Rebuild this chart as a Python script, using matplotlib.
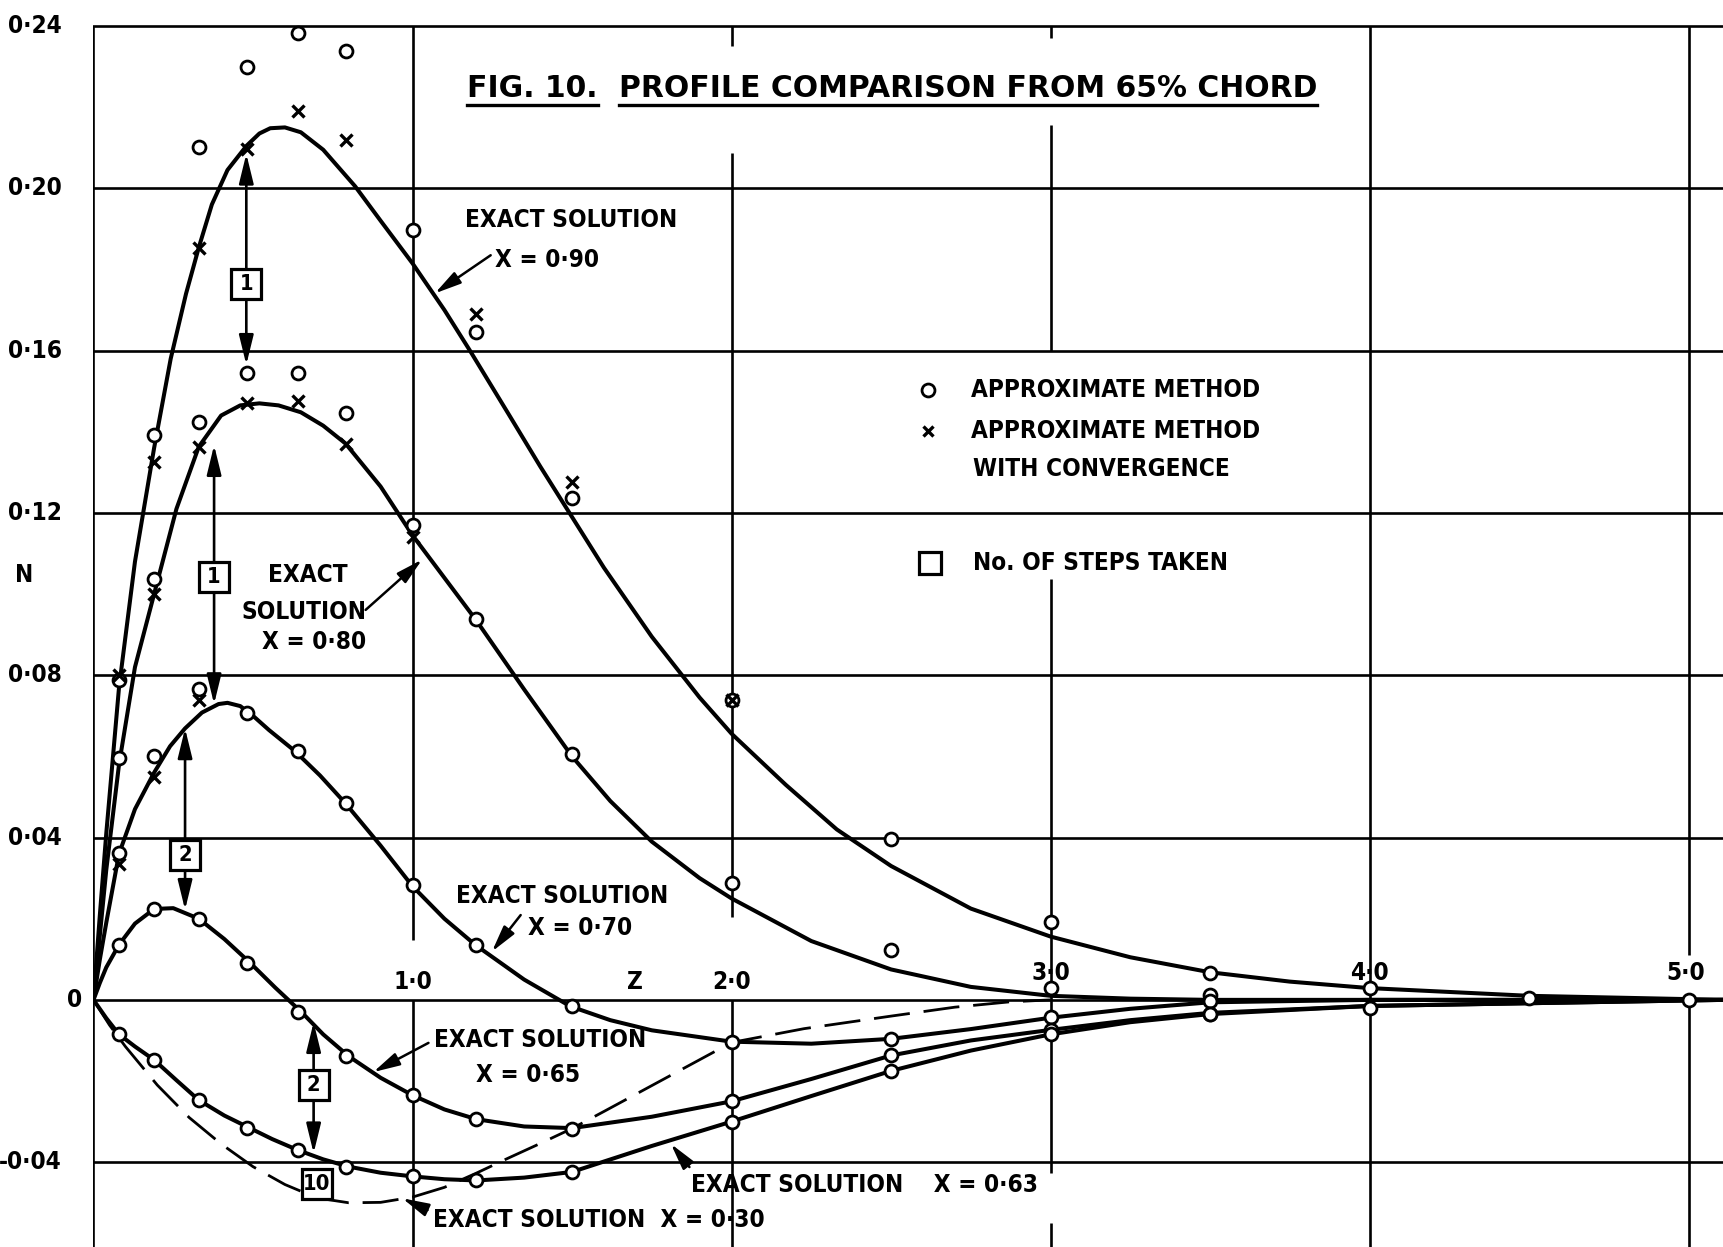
import os
import numpy as np
import matplotlib
matplotlib.use('Agg')
import matplotlib.pyplot as plt
from matplotlib import font_manager as fm

# exact solutions, Z against N
z90 = [0, 0.02, 0.04, 0.08, 0.13, 0.19, 0.242, 0.29, 0.33, 0.371, 0.42, 0.48, 0.52, 0.554, 0.60, 0.65,
       0.72, 0.82, 0.9, 1.0, 1.1, 1.18, 1.3, 1.4, 1.5, 1.6, 1.75, 1.9, 2.0, 2.17, 2.33, 2.5, 2.75, 3.0,
       3.25, 3.5, 3.75, 4.0, 4.5, 5.111]
n90 = [0, 0.021, 0.041, 0.077, 0.108, 0.136, 0.158, 0.174, 0.1854, 0.196, 0.2045, 0.2105, 0.2135, 0.2148,
       0.2150, 0.2138, 0.2095, 0.2005, 0.192, 0.1815, 0.170, 0.160, 0.1445, 0.1315, 0.119, 0.1065, 0.0895,
       0.0745, 0.0656, 0.053, 0.042, 0.0330, 0.0225, 0.0156, 0.0105, 0.0068, 0.0045, 0.0029, 0.0010, 0.0]

z80 = [0, 0.02, 0.04, 0.08, 0.13, 0.19, 0.26, 0.33, 0.40, 0.46, 0.52, 0.58, 0.65, 0.72, 0.79, 0.9, 1.0,
       1.1, 1.2, 1.35, 1.5, 1.62, 1.75, 1.9, 2.0, 2.25, 2.5, 2.75, 3.0, 3.25, 3.5, 4.0, 5.111]
n80 = [0, 0.016, 0.032, 0.058, 0.082, 0.100, 0.121, 0.1363, 0.1440, 0.1465, 0.1470, 0.1465, 0.1448,
       0.1415, 0.1371, 0.1265, 0.1145, 0.1040, 0.0935, 0.0765, 0.0600, 0.0490, 0.0390, 0.0300, 0.0250,
       0.0145, 0.0075, 0.0032, 0.0010, 0.0003, 0.0, 0.0, 0.0]

z70 = [0, 0.02, 0.04, 0.08, 0.13, 0.19, 0.24, 0.287, 0.34, 0.392, 0.42, 0.46, 0.50, 0.55, 0.63, 0.71,
       0.789, 0.9, 1.0, 1.1, 1.196, 1.35, 1.495, 1.62, 1.75, 2.0, 2.25, 2.5, 2.75, 3.0, 3.25, 3.5, 4.0,
       5.111]
n70 = [0, 0.010, 0.019, 0.036, 0.047, 0.056, 0.0625, 0.0669, 0.0708, 0.0729, 0.0732, 0.0724, 0.0700,
       0.0665, 0.0614, 0.0553, 0.0485, 0.0380, 0.0280, 0.0200, 0.0136, 0.0050, -0.0016, -0.0050, -0.0075,
       -0.0103, -0.0108, -0.0096, -0.0072, -0.0044, -0.0022, -0.0006, 0.0, 0.0]

z65 = [0, 0.02, 0.04, 0.08, 0.13, 0.19, 0.25, 0.33, 0.41, 0.49, 0.57, 0.653, 0.72, 0.80, 0.9, 1.0, 1.1,
       1.2, 1.35, 1.5, 1.75, 2.0, 2.25, 2.5, 2.75, 3.0, 3.25, 3.5, 4.0, 5.111]
n65 = [0, 0.0042, 0.008, 0.0136, 0.0188, 0.0224, 0.0226, 0.0200, 0.0150, 0.0092, 0.0030, -0.0031,
       -0.0085, -0.0139, -0.0192, -0.0235, -0.0270, -0.0294, -0.0312, -0.0316, -0.0288, -0.0250, -0.0195,
       -0.0137, -0.0100, -0.0074, -0.0050, -0.0032, -0.0015, 0.0]

z63 = [0, 0.04, 0.08, 0.13, 0.19, 0.26, 0.33, 0.41, 0.49, 0.56, 0.64, 0.72, 0.80, 0.9, 1.0, 1.1, 1.2,
       1.35, 1.5, 1.75, 2.0, 2.25, 2.5, 2.75, 3.0, 3.25, 3.5, 4.0, 5.111]
n63 = [0, -0.0045, -0.0085, -0.0115, -0.0148, -0.0198, -0.0247, -0.0285, -0.0316, -0.0343, -0.0370,
       -0.0393, -0.0411, -0.0426, -0.0435, -0.0442, -0.0445, -0.0438, -0.0424, -0.0360, -0.0300,
       -0.0237, -0.0175, -0.0125, -0.0085, -0.0055, -0.0035, -0.0015, 0.0]

z30 = [0, 0.05, 0.1, 0.2, 0.3, 0.4, 0.5, 0.6, 0.7, 0.8, 0.9, 1.0, 1.1, 1.2, 1.3, 1.4, 1.5, 1.6, 1.8,
       2.0, 2.227, 2.5, 2.7, 2.87, 3.0]
n30 = [0, -0.0062, -0.0115, -0.0210, -0.0290, -0.0355, -0.0411, -0.0455, -0.0488, -0.0500, -0.0499,
       -0.0486, -0.0462, -0.0427, -0.0390, -0.0354, -0.0317, -0.0275, -0.0190, -0.0105, -0.0071,
       -0.0040, -0.0018, -0.0005, 0.0]

# approximate method (circles) and approximate method with convergence (crosses)
zp = [0.08, 0.19, 0.33, 0.48, 0.64, 0.79, 1.0, 1.2, 1.5, 2.0, 2.5, 3.0, 3.5, 4.0, 4.5, 5.0]
o90 = [0.0788, 0.1392, 0.2101, 0.2298, 0.2383, 0.2338, 0.1896, 0.1645, 0.1237, 0.0738, 0.0397, 0.0193,
       0.0066, 0.0029, 0.0005, 0.0]
x90 = [0.0800, 0.1326, 0.1854, 0.2097, 0.2190, 0.2119, np.nan, 0.1690, 0.1277, 0.0738]
o80 = [0.0597, 0.1037, 0.1424, 0.1544, 0.1544, 0.1446, 0.1171, 0.0939, 0.0606, 0.0287, 0.0123, 0.0029,
       0.0011]
x80 = [np.nan, 0.1000, 0.1363, 0.1471, 0.1476, 0.1371, 0.1141]
o70 = [0.0361, 0.0600, 0.0767, 0.0706, 0.0614, 0.0485, 0.0283, 0.0136, -0.0016, -0.0103, -0.0096,
       -0.0043, -0.0002]
x70 = [0.0335, 0.0550, 0.0739]
o65 = [0.0136, 0.0225, 0.0200, 0.0092, -0.0031, -0.0139, -0.0235, -0.0294, -0.0318, -0.0250, -0.0137,
       -0.0074, -0.0035, -0.0020]
o63 = [-0.0085, -0.0148, -0.0247, -0.0316, -0.0370, -0.0411, -0.0435, -0.0445, -0.0424, -0.0300,
       -0.0175, -0.0085, -0.0035]

yticks = [-0.04, 0, 0.04, 0.08, 0.12, 0.16, 0.20, 0.24]
ylabels = ['-0·04', '0', '0·04', '0·08', '0·12', '0·16', '0·20', '0·24']
xticks = [1, 2, 3, 4, 5]
xlabels = ['1·0', '2·0', '3·0', '4·0', '5·0']

# step boxes: z, arrow top, arrow bottom, box centre, label
steps = [(0.479, 0.2085, 0.1565, 0.1764, '1'),
         (0.378, 0.1367, 0.0729, 0.1041, '1'),
         (0.287, 0.0669, 0.0222, 0.0357, '2'),
         (0.690, -0.0055, -0.0378, -0.0210, '2')]


def narrow_font():
    # the lettering is narrow and bold: use a narrow face when one is installed
    for fam, stretch, size in [('Liberation Sans Narrow', 'normal', 20.5), ('DejaVu Sans', 'condensed', 17.5),
                               ('Noto Sans', 'condensed', 18.5), ('Roboto Condensed', 'normal', 19.5)]:
        try:
            path = fm.findfont(fm.FontProperties(family=fam, weight='bold', stretch=stretch),
                               fallback_to_default=False)
        except ValueError:
            continue
        name = os.path.basename(path).lower()
        if 'narrow' in name or 'condensed' in name:
            return dict(family=[fam, 'DejaVu Sans'], stretch=stretch, size=size)
    return dict(family=['Liberation Sans', 'DejaVu Sans'], stretch='normal', size=17)


nf = narrow_font()
txt = dict(family=nf['family'], fontstretch=nf['stretch'], weight='bold', fontsize=nf['size'], color='k')
box_fs = nf['size'] * 0.9

XMAX = 5.111
fig = plt.figure(figsize=(17.24, 12.47), dpi=100)
ax = fig.add_axes([93.5 / 1724, 0, 1 - 93.5 / 1724, 1])
ax.set_xlim(0, XMAX)
ax.set_ylim(-0.0609, 0.2464)
ax.axis('off')

# grid, with the breaks of the original drawing
for y in yticks:
    ax.axhline(y, color='k', lw=1.9, zorder=1)
ax.vlines(0, -0.0609, 0.24, color='k', lw=1.9, zorder=1)
vsegs = {1: [(-0.0609, 0.0), (0.0148, 0.24)],
         2: [(-0.0609, 0.0), (0.0205, 0.2087), (0.235, 0.24)],
         3: [(-0.0609, -0.055), (-0.0426, 0.1036), (0.16, 0.2155), (0.237, 0.24)],
         4: [(-0.0609, 0.24)],
         5: [(-0.0609, 0.0), (0.0110, 0.24)]}
for z, segs in vsegs.items():
    for lo, hi in segs:
        ax.vlines(z, lo, hi, color='k', lw=1.9, zorder=1)

# exact solutions
for zz, nn in [(z90, n90), (z80, n80), (z70, n70), (z65, n65), (z63, n63)]:
    ax.plot(zz, nn, color='k', lw=2.9, zorder=3, solid_capstyle='round', solid_joinstyle='round')
ax.plot(z30, n30, color='k', lw=2.0, ls=(0, (13, 5)), zorder=3)

# approximate points
circ = dict(ls='none', marker='o', ms=9.3, mfc='white', mec='k', mew=2.0, zorder=5)
cross = dict(ls='none', marker='x', ms=8, mec='k', mew=2.4, zorder=5)
for vals in [o90, o80, o70, o65, o63]:
    ax.plot(zp[:len(vals)], vals, **circ)
for vals in [x90, x80, x70]:
    ax.plot(zp[:len(vals)], vals, **cross)

# tick labels drawn on the chart
ytr = ax.get_yaxis_transform()
for y, lab in zip(yticks, ylabels):
    xo = -0.007 if lab == '0' else -0.0195
    ax.text(xo, y, lab, transform=ytr, ha='right', va='center', **txt)
for x, lab in zip(xticks, xlabels):
    yy = 0.0045 if x < 3 else 0.0065
    ax.text(x if x < 5 else 4.99, yy, lab, ha='center', va='center', **txt)
ax.text(1.697, 0.0045, 'Z', ha='center', va='center', **txt)
fig.text(24 / 1724, 1 - 575 / 1247, 'N', ha='center', va='center', **txt)

# step boxes with double arrows
for z, top, bot, yb, lab in steps:
    ax.annotate('', xy=(z, top), xytext=(z, bot),
                arrowprops=dict(arrowstyle='<|-|>,head_length=0.9,head_width=0.22', color='k', lw=1.9,
                                shrinkA=0, shrinkB=0, mutation_scale=20), zorder=4)
    ax.plot(z, yb, marker='s', ms=22, mfc='white', mec='k', mew=2.3, zorder=6)
    ax.text(z, yb, lab, ha='center', va='center', zorder=7, **{**txt, 'fontsize': box_fs})
ax.plot(0.70, -0.0453, marker='s', ms=22, mfc='white', mec='k', mew=2.3, zorder=6)
ax.text(0.70, -0.0453, '10', ha='center', va='center', zorder=7, **{**txt, 'fontsize': box_fs})

# curve labels
arr = dict(arrowstyle='-|>,head_length=0.8,head_width=0.2', color='k', lw=1.8, shrinkA=0, shrinkB=0,
           mutation_scale=20)
ax.text(1.164, 0.1922, 'EXACT SOLUTION', ha='left', va='center', **txt)
ax.text(1.26, 0.1823, 'X = 0·90', ha='left', va='center', **txt)
ax.annotate('', xy=(1.07, 0.1741), xytext=(1.245, 0.1835), arrowprops=arr)

ax.text(0.672, 0.1047, 'EXACT', ha='center', va='center', **txt)
ax.text(0.661, 0.0955, 'SOLUTION', ha='center', va='center', **txt)
ax.text(0.692, 0.0882, 'X = 0·80', ha='center', va='center', **txt)
ax.annotate('', xy=(1.03, 0.1085), xytext=(0.853, 0.0961), arrowprops=arr)

ax.text(1.135, 0.0256, 'EXACT SOLUTION', ha='left', va='center', **txt)
ax.text(1.361, 0.0177, 'X = 0·70', ha='left', va='center', **txt)
ax.annotate('', xy=(1.249, 0.0119), xytext=(1.339, 0.0209), arrowprops=arr)

ax.text(1.066, -0.0100, 'EXACT SOLUTION', ha='left', va='center', **txt)
ax.text(1.2, -0.0186, 'X = 0·65', ha='left', va='center', **txt)
ax.annotate('', xy=(0.877, -0.0178), xytext=(1.05, -0.0106), arrowprops=arr)

ax.text(1.874, -0.0456, 'EXACT SOLUTION    X = 0·63', ha='left', va='center', **txt)
ax.annotate('', xy=(1.81, -0.0355), xytext=(1.868, -0.0412), arrowprops=arr)

ax.text(1.063, -0.0543, 'EXACT SOLUTION  X = 0·30', ha='left', va='center', **txt)
ax.annotate('', xy=(0.968, -0.0489), xytext=(1.047, -0.0518), arrowprops=arr)

# key
ax.plot(2.617, 0.1503, **circ)
ax.plot(2.617, 0.1403, **{**cross, 'ms': 7})
ax.plot(2.623, 0.1076, marker='s', ms=16, mfc='white', mec='k', mew=2.3, zorder=6)
ax.text(2.752, 0.1503, 'APPROXIMATE METHOD', ha='left', va='center', **txt)
ax.text(2.752, 0.1403, 'APPROXIMATE METHOD', ha='left', va='center', **txt)
ax.text(2.758, 0.1308, 'WITH CONVERGENCE', ha='left', va='center', **txt)
ax.text(2.758, 0.1076, 'No. OF STEPS TAKEN', ha='left', va='center', **txt)

# title with underlines
ttl = dict(family='DejaVu Sans', weight='bold', fontsize=21.5, color='k')
t1 = ax.text(1.172, 0.2245, 'FIG. 10.', ha='left', va='center', **ttl)
t2 = ax.text(1.647, 0.2245, 'PROFILE COMPARISON FROM 65% CHORD', ha='left', va='center', **ttl)
fig.canvas.draw()
inv = ax.transData.inverted()
for t in (t1, t2):
    bb = t.get_window_extent()
    (x0, y0), (x1, _) = inv.transform([[bb.x0, bb.y0], [bb.x1, bb.y1]])
    ax.plot([x0, x1], [y0 - 0.0005, y0 - 0.0005], color='k', lw=2.4, zorder=2)

fig.savefig('out.png', dpi=100, facecolor='white')
